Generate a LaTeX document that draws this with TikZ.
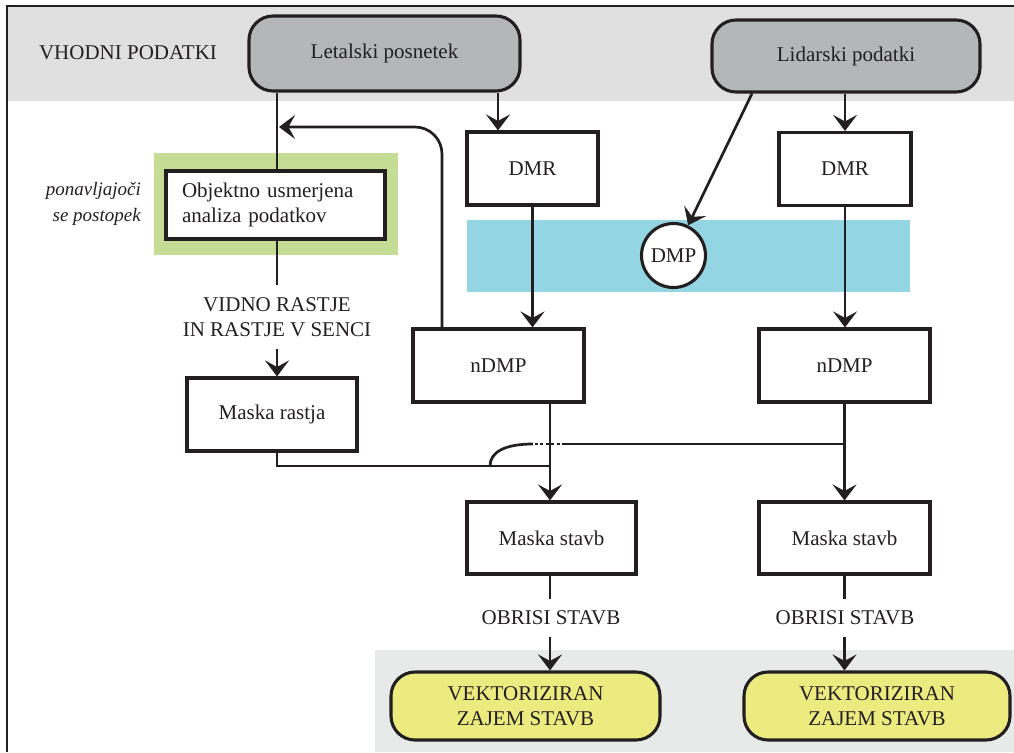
\documentclass[tikz,border=0pt]{standalone}
\usepackage{fontspec}
\setmainfont{Liberation Serif}
\usetikzlibrary{arrows.meta}
\definecolor{ink}{HTML}{231F20}
\definecolor{topgray}{HTML}{E0E0E0}
\definecolor{inputgray}{HTML}{B4B7B8}
\definecolor{leafgreen}{HTML}{C4DC94}
\definecolor{cyanband}{HTML}{93D5E2}
\definecolor{botgray}{HTML}{E8EAE9}
\definecolor{outyellow}{HTML}{EBEB80}
\begin{document}
\begin{tikzpicture}[x=1pt,y=-1pt,
  every node/.style={text=ink, font=\fontsize{21}{25.5}\selectfont},
  box/.style={draw=ink, line width=3.1pt, fill=white, minimum width=#1, minimum height=73pt, inner sep=0pt},
  iobox/.style={draw=ink, line width=3.1pt, rounded corners=24pt, minimum width=#1, inner sep=0pt, align=center},
  lbl/.style={align=center, inner xsep=0pt},
  conn/.style={draw=ink, line width=2.7pt},
  arr/.style={draw=ink, line width=2.7pt, -{Stealth[length=16pt,width=24pt,inset=6.5pt]}}
]
\useasboundingbox (0,0) rectangle (1014,752);
% bands
\fill[topgray] (7,6) rectangle (1014,101);
\fill[botgray] (375,650) rectangle (1014,752);
\fill[leafgreen] (154,153) rectangle (398,255);
\fill[cyanband] (467,220) rectangle (910,292);
\draw[draw=ink, line width=1.2pt] (1014,6) -- (7,6) -- (7,752);

% nodes
\node[lbl] (vhod) at (128,53) {VHODNI PODATKI};
\node[iobox=271pt, fill=inputgray, minimum height=75pt] (let) at (384.5,53.5) {Letalski posnetek};
\node[iobox=268pt, fill=inputgray, minimum height=72pt] (lid) at (846,56) {Lidarski podatki};
\node[box=131pt] (dmrL) at (532.5,168.5) {DMR};
\node[box=132pt] (dmrR) at (845,169) {DMR};
\node[circle, draw=ink, line width=3.1pt, fill=white, minimum size=64pt, inner sep=0pt] (dmp) at (673.5,255.5) {DMP};
\node[box=171pt] (ndmpL) at (498.5,365.5) {nDMP};
\node[box=171pt] (ndmpR) at (844.5,365.5) {nDMP};
\node[box=169pt, minimum height=72pt] (msL) at (551.5,538) {Maska stavb};
\node[box=171pt, minimum height=72pt] (msR) at (844.5,538) {Maska stavb};
\node[box=219pt, minimum height=68pt, text width=187pt, align=left] (obj) at (275.5,205) {Objektno usmerjena\\analiza podatkov};
\node[anchor=east, align=right, inner sep=0pt, font=\fontsize{19}{25.5}\selectfont\itshape] (ponav) at (141,204) {ponavljajoči\\se postopek};
\node[box=170pt] (mr) at (272,414.5) {Maska rastja};
\node[lbl, inner ysep=12pt] (vid) at (277,317.4) {VIDNO RASTJE\\IN RASTJE V SENCI};
\node[lbl, inner ysep=12pt] (obrL) at (551,618) {OBRISI STAVB};
\node[lbl, inner ysep=12pt] (obrR) at (845,618) {OBRISI STAVB};
\node[iobox=269pt, fill=outyellow, minimum height=68pt] (vekL) at (525.5,706) {VEKTORIZIRAN\\ZAJEM STAVB};
\node[iobox=266pt, fill=outyellow, minimum height=68pt] (vekR) at (877,706) {VEKTORIZIRAN\\ZAJEM STAVB};

% helper coordinates
\coordinate (vx) at (277,0);
\coordinate (ax) at (498,0);
\coordinate (lx) at (442,0);
\coordinate (ly) at (0,127);
\coordinate (lend) at (279,127);
\coordinate (dx) at (752,0);
\coordinate (j1) at (550,466);
\coordinate (jR) at (844.5,444);
\coordinate (dA) at (565,444);
\coordinate (dB) at (533,444);
\coordinate (cE) at (490,466);

% connectors
\draw[conn] (let.south -| vx) -- (obj.north -| vx);
\draw[arr] (let.south -| ax) -- (dmrL.north -| ax);
\draw[arr, rounded corners=27pt] (ndmpL.north -| lx) -- (lx |- ly) -- (lend);
\draw[conn] (obj.south -| vx) -- (vid.north -| vx);
\draw[arr] (vid.south -| vx) -- (mr.north -| vx);
\draw[conn] (mr.south -| vx) |- (j1);
\draw[arr] (dmrL.south) -- (ndmpL.north -| dmrL.south);
\draw[arr] (ndmpL.south -| j1) -- (msL.north -| j1);
\draw[arr] (lid.south -| dmrR) -- (dmrR.north);
\draw[arr] (lid.south -| dx) -- (dmp);
\draw[arr] (dmrR.south) -- (ndmpR.north -| dmrR.south);
\draw[arr] (ndmpR.south) -- (msR.north);
\draw[conn] (jR) -- (dA);
\draw[conn, dash pattern=on 3pt off 2.5pt] (dA) -- (dB);
\draw[conn] (dB) .. controls (505,444) and (490,452) .. (cE);
\draw[conn] (msL.south -| j1) -- (obrL.north -| j1);
\draw[arr] (obrL.south -| j1) -- (vekL.north -| j1);
\draw[conn] (msR.south) -- (obrR.north -| msR.south);
\draw[arr] (obrR.south -| msR.south) -- (vekR.north -| msR.south);
\end{tikzpicture}
\end{document}
